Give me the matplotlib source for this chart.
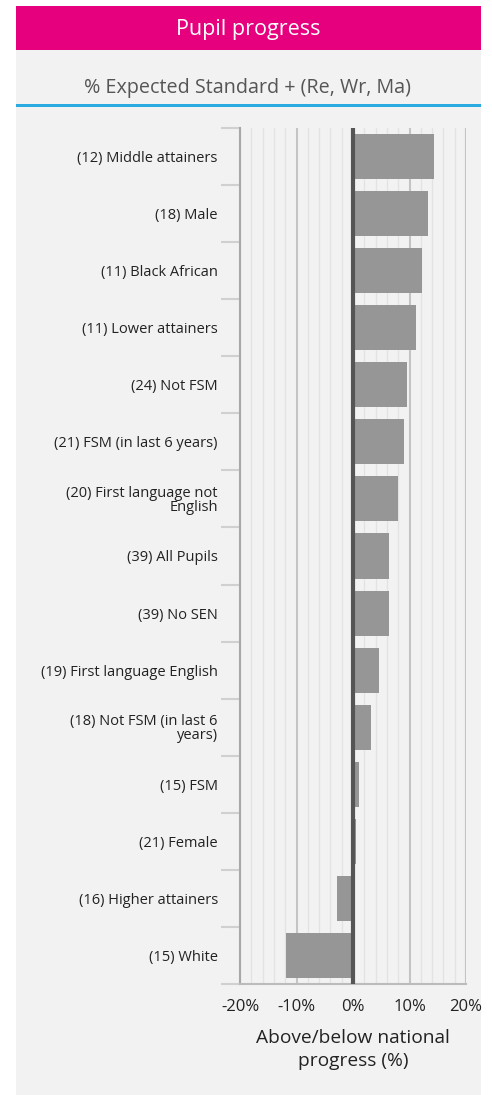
import matplotlib.pyplot as plt
from matplotlib.patches import Rectangle
from matplotlib.ticker import FuncFormatter, MultipleLocator

plt.rcParams['font.family'] = ['Open Sans', 'DejaVu Sans']

# categories top to bottom
groups = ['(12) Middle attainers', '(18) Male', '(11) Black African',
          '(11) Lower attainers', '(24) Not FSM', '(21) FSM (in last 6 years)',
          '(20) First language not\nEnglish', '(39) All Pupils', '(39) No SEN',
          '(19) First language English', '(18) Not FSM (in last 6\nyears)',
          '(15) FSM', '(21) Female', '(16) Higher attainers', '(15) White']
progress = [14.3, 13.3, 12.2, 11.1, 9.6, 9.0, 8.0, 6.4, 6.3, 4.6, 3.2,
            1.0, 0.5, -2.9, -11.9]
x_ticks = [-20, -10, 0, 10, 20]

W, H = 492, 1095
fig = plt.figure(figsize=(W / 100, H / 100), dpi=100)
fig.patch.set_facecolor('white')

# background axes for panel, header and blue rule
bg = fig.add_axes([0, 0, 1, 1], zorder=-10)
bg.set_xlim(0, W)
bg.set_ylim(H, 0)
bg.axis('off')
bg.add_patch(Rectangle((16, 6), 465, H - 6, facecolor='#f2f2f2', edgecolor='none'))
bg.add_patch(Rectangle((16, 6), 465, 44, facecolor='#e6007e', edgecolor='none'))
bg.add_patch(Rectangle((16, 104), 465, 3, facecolor='#29abe2', edgecolor='none'))
bg.text(248, 29, 'Pupil progress', color='white', fontsize=15.5,
        ha='center', va='center')
bg.text(248, 88, '% Expected Standard + (Re, Wr, Ma)', color='#555555',
        fontsize=14.2, ha='center', va='center')

ax = fig.add_axes([240 / W, 1 - 984 / H, 226 / W, 856 / H])
ax.set_facecolor('#f2f2f2')

pos = list(range(len(groups)))
ax.barh(pos, progress, height=0.79, color='#969696', zorder=3)
ax.axvline(0, color='#555555', lw=3, zorder=4)

ax.set_xlim(-20, 20)
ax.set_ylim(len(groups) - 0.5, -0.5)
ax.set_xticks(x_ticks)
ax.xaxis.set_minor_locator(MultipleLocator(2))
ax.xaxis.set_major_formatter(FuncFormatter(lambda v, p: f'{v:.0f}%'))
ax.grid(axis='x', which='major', color='#c4c4c4', lw=1.5, zorder=1)
ax.grid(axis='x', which='minor', color='#e3e3e3', lw=1.0, zorder=1)
ax.set_axisbelow(True)

ax.set_yticks(pos)
ax.set_yticklabels(groups, fontsize=10.5, color='#222222', linespacing=0.9)
ax.set_yticks([p + 0.5 for p in [-1] + pos], minor=True)
ax.tick_params(axis='y', which='major', length=0, pad=16)
ax.tick_params(axis='y', which='minor', length=14, width=1.5, color='#d0d0d0')
ax.tick_params(axis='x', which='both', length=0, pad=11, labelsize=12, colors='#222222')

for side in ['top', 'right']:
    ax.spines[side].set_visible(False)
ax.spines['left'].set_color('#a8a8a8')
ax.spines['left'].set_linewidth(1.5)
ax.spines['bottom'].set_color('#bbbbbb')
ax.spines['bottom'].set_linewidth(1.5)
ax.axvline(20, color='#c4c4c4', lw=1.5, zorder=2)

ax.set_xlabel('Above/below national\nprogress (%)', fontsize=13.8, color='#222222',
              labelpad=10, linespacing=1.35)

fig.savefig('out.png', dpi=100, facecolor=fig.get_facecolor())
